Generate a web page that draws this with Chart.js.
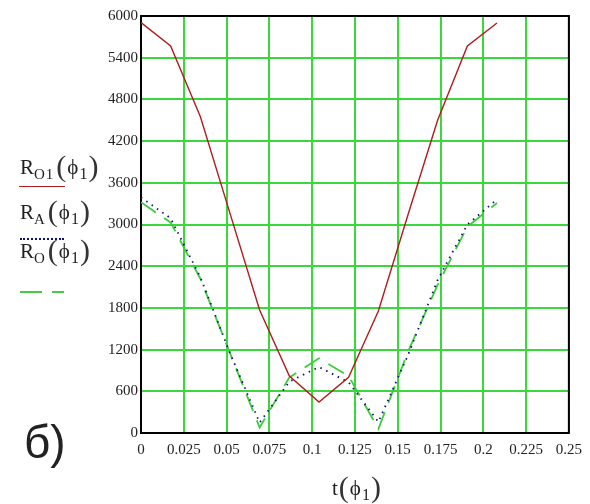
<!DOCTYPE html>
<html>
<head>
<meta charset="utf-8">
<script src="https://cdn.jsdelivr.net/npm/chart.js@4.4.1/dist/chart.umd.min.js"></script>
<style>
  html, body { margin: 0; padding: 0; background: #fff; }
  #wrap { position: relative; width: 590px; height: 504px; overflow: hidden; }
  canvas { position: absolute; left: 0; top: 0; }
  .lbl { position: absolute; font-family: "Liberation Serif", serif; color: #222; white-space: nowrap; line-height: 1; }
  .lbl .R { font-size: 21px; }
  .lbl .sub { font-size: 15px; position: relative; top: 5px; letter-spacing: 1px; margin-right: 1px; }
  .lbl .par { font-size: 30px; position: relative; top: 2px; color: #333; margin: 0 1px; }
  .lbl .phi { font-size: 21px; }
  .lbl .s1 { font-size: 16px; position: relative; top: 5px; margin-left: 1px; }
  .sample { position: absolute; height: 0; }
  #fig { position: absolute; left: 24px; top: 419px; font-family: "Liberation Sans", Arial, sans-serif; font-size: 46px; color: #222; line-height: 1; }
</style>
</head>
<body>
<div id="wrap">
  <canvas id="chart" width="590" height="504"></canvas>

  <div class="lbl" style="left:20px; top:149px;"><span class="R">R</span><span class="sub">O1</span><span class="par">(</span><span class="phi">ϕ</span><span class="s1">1</span><span class="par">)</span></div>
  <div class="sample" style="left:19px; top:186px; width:46px; border-top:1.5px solid #b01c1c;"></div>

  <div class="lbl" style="left:20px; top:194px;"><span class="R">R</span><span class="sub">A</span><span class="par">(</span><span class="phi">ϕ</span><span class="s1">1</span><span class="par">)</span></div>
  <div class="sample" style="left:20px; top:238px; width:44px; border-top:2px dotted #101070;"></div>

  <div class="lbl" style="left:20px; top:233px;"><span class="R">R</span><span class="sub">O</span><span class="par">(</span><span class="phi">ϕ</span><span class="s1">1</span><span class="par">)</span></div>
  <div class="sample" style="left:20px; top:291px; width:22px; border-top:2px solid #44cc44;"></div>
  <div class="sample" style="left:52px; top:291px; width:12px; border-top:2px solid #44cc44;"></div>

  <div class="lbl" style="left:332px; top:470px;"><span class="phi" style="font-size:21px;">t</span><span class="par">(</span><span class="phi">ϕ</span><span class="s1">1</span><span class="par">)</span></div>

  <div id="fig">б)</div>
</div>
<script>
// time values (s) and reactions
const tValues = [0, 0.0173, 0.0347, 0.052, 0.0693, 0.0867, 0.104, 0.1213, 0.1387, 0.156, 0.1733, 0.1907, 0.208];
const rO1 = [5904, 5570, 4550, 3160, 1770, 820, 445, 800, 1755, 3140, 4500, 5570, 5900];
const rA  = [3390, 3090, 2240, 1150, 150, 740, 950, 730, 160, 1120, 2200, 3000, 3360];
const rO  = [3320, 3030, 2220, 1150, 80, 800, 1075, 820, 60, 1170, 2130, 2970, 3310];

const xTicks = { min: 0, max: 0.25, step: 0.025 };
const yTicks = { min: 0, max: 6000, step: 600 };

function pts(ys) {
  return tValues.map((t, i) => ({ x: t, y: ys[i] }));
}

const GRID = "#3ad83a";
const tickFont = { family: "Liberation Serif", size: 15 };

const frame = {
  id: "frame",
  beforeDatasetsDraw(chart) {
    const { ctx, chartArea: a } = chart;
    ctx.save();
    ctx.strokeStyle = "#000";
    ctx.lineWidth = 2;
    ctx.strokeRect(a.left, a.top, a.right - a.left, a.bottom - a.top);
    ctx.restore();
  },
};

new Chart(document.getElementById("chart"), {
  type: "line",
  data: {
    datasets: [
      { label: "RO1", data: pts(rO1), borderColor: "#b01c1c", borderWidth: 1.4 },
      { label: "RA", data: pts(rA), borderColor: "#101070", borderWidth: 1.8, borderDash: [1.5, 5] },
      { label: "RO", data: pts(rO), borderColor: "#3ccc3c", borderWidth: 1.8, borderDash: [18, 10] },
    ],
  },
  options: {
    responsive: false,
    animation: false,
    layout: { padding: { left: 0, right: 17, top: 16, bottom: 0 } },
    plugins: { legend: { display: false }, tooltip: { enabled: false } },
    elements: { point: { radius: 0 }, line: { tension: 0, fill: false } },
    scales: {
      x: {
        type: "linear",
        min: xTicks.min, max: xTicks.max,
        afterFit: (s) => { s.height = 71; },
        border: { display: false },
        grid: { color: GRID, lineWidth: 2, drawTicks: false },
        ticks: {
          stepSize: xTicks.step, padding: 8, color: "#222", font: tickFont, maxRotation: 0,
          callback: (v) => String(Number(v.toFixed(3))),
        },
      },
      y: {
        min: yTicks.min, max: yTicks.max,
        afterFit: (s) => { s.width = 141; },
        border: { display: false },
        grid: { color: GRID, lineWidth: 2, drawTicks: false },
        ticks: { stepSize: yTicks.step, padding: 3, color: "#222", font: tickFont, callback: (v) => String(v) },
      },
    },
  },
  plugins: [frame],
});
</script>
</body>
</html>
